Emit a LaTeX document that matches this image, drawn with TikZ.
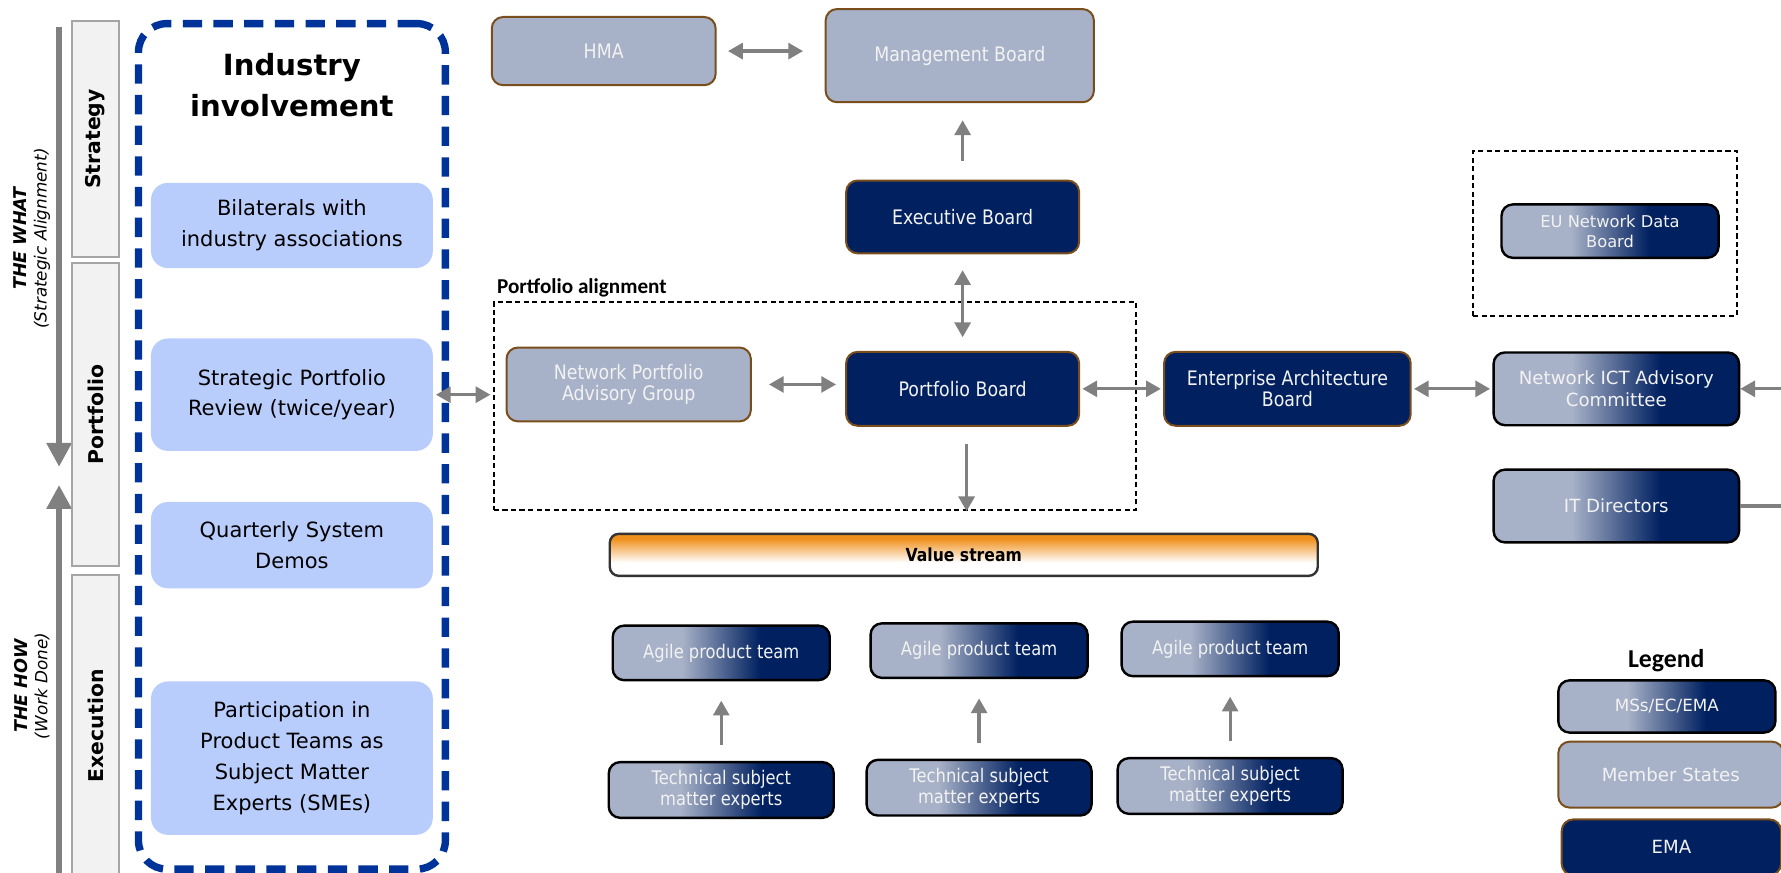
\documentclass[tikz,border=0pt]{standalone}
\usepackage{fontspec}
\setmainfont{DejaVu Sans}
\newfontfamily\condfont{DejaVu Sans}[FakeStretch=0.87]
\newfontfamily\calfont{Carlito}
\usepackage{tikz}
\usetikzlibrary{shapes, arrows.meta, positioning, calc, shadings}

\definecolor{msgray}{RGB}{167,177,199}
\definecolor{emanavy}{RGB}{0,32,96}
\definecolor{msbrown}{RGB}{122,78,28}
\definecolor{indblue}{RGB}{185,205,252}
\definecolor{dashblue}{RGB}{0,51,153}
\definecolor{arrowgray}{RGB}{128,128,128}
\definecolor{labelfill}{RGB}{242,242,242}
\definecolor{labeldraw}{RGB}{165,165,165}
\definecolor{vsorange}{RGB}{240,145,30}
\definecolor{boxtext}{RGB}{242,242,242}

\pgfdeclarehorizontalshading{mixgrad}{100bp}{color(0bp)=(msgray); color(41bp)=(msgray); color(59bp)=(emanavy); color(100bp)=(emanavy)}
\pgfdeclareverticalshading{streamgrad}{100bp}{color(0bp)=(white); color(41bp)=(white); color(69bp)=(vsorange); color(100bp)=(vsorange)}

\tikzset{
	board/.style={rounded corners=0.1cm, draw=msbrown, line width=0.5pt, text=boxtext, align=center, inner sep=0pt, font=\condfont\fontsize{5}{5.3}\selectfont},
	msbox/.style={board, fill=msgray},
	emabox/.style={board, fill=emanavy},
	mixbox/.style={board, draw=black, line width=0.6pt, shade, shading=mixgrad},
	plaintext/.style={font=\fontsize{4.55}{5.7}\selectfont},
	teamtext/.style={font=\condfont\fontsize{4.7}{5.1}\selectfont},
	industry/.style={rounded corners=0.15cm, fill=indblue, align=center, minimum width=2.48cm, inner sep=0pt, font=\fontsize{5.26}{7.7}\selectfont},
	layer/.style={draw=labeldraw, fill=labelfill, line width=0.5pt, rotate=90, minimum height=0.42cm, inner sep=0pt, font=\bfseries\fontsize{5.1}{6}\selectfont},
	dashbox/.style={draw=black, line width=0.6pt, dash pattern=on 0.045cm off 0.03cm},
	link/.style={draw=arrowgray, line width=0.8pt, {Triangle[length=0.13cm, width=0.14cm]}-{Triangle[length=0.13cm, width=0.14cm]}},
	feed/.style={draw=arrowgray, line width=0.8pt, -{Triangle[length=0.13cm, width=0.14cm]}},
	bigarrow/.style={draw=arrowgray, line width=1.5pt, -{Triangle[length=0.21cm, width=0.21cm]}}
}

\begin{document}
\begin{tikzpicture}[x=0.01cm, y=-0.01cm]
	\useasboundingbox (0,0) rectangle (1568,768.6);
	\coordinate (whattop) at (52,24);
	\coordinate (whattip) at (52,411);
	\coordinate (howend) at (52,790);
	\coordinate (howtip) at (52,427);
	\draw[bigarrow] (whattop) -- (whattip);
	\draw[bigarrow] (howend) -- (howtip);
	\node[rotate=90, align=center, font=\itshape\fontsize{4.2}{5.1}\selectfont] (what) at (28,210) {{\bfseries\fontsize{4.4}{5.1}\selectfont THE WHAT}\\(Strategic Alignment)};
	\node[rotate=90, align=center, font=\itshape\fontsize{4.2}{5.1}\selectfont] (how) at (28,604) {{\bfseries\fontsize{4.4}{5.1}\selectfont THE HOW}\\(Work Done)};
	\node[layer, minimum width=2.07cm] (strategy) at (84,122.5) {Strategy};
	\node[layer, minimum width=2.66cm] (portfolio) at (84,365) {Portfolio};
	\node[layer, minimum width=2.66cm] (execution) at (84,639) {Execution};

	\node[draw=dashblue, line width=1.85pt, dash pattern=on 0.17cm off 0.1cm, rounded corners=0.25cm, minimum width=2.7cm, minimum height=7.44cm] (frame) at (257,393) {};
	\node[align=center, font=\bfseries\fontsize{7.3}{10.2}\selectfont] (title) at (257,75) {Industry\\involvement};
	\node[industry, minimum height=0.75cm] (bil) at (257,198.5) {Bilaterals with\\industry associations};
	\node[industry, minimum height=0.99cm] (spr) at (257,347.5) {Strategic Portfolio\\Review (twice/year)};
	\node[industry, minimum height=0.76cm] (qsd) at (257,480) {Quarterly System\\Demos};
	\node[industry, minimum height=1.35cm] (pts) at (257,667.5) {Participation in\\Product Teams as\\Subject Matter\\Experts (SMEs)};

	\node[msbox, minimum width=1.97cm, minimum height=0.6cm] (hma) at (531.5,45) {HMA};
	\node[msbox, minimum width=2.36cm, minimum height=0.82cm] (mb) at (845,49) {Management Board};
	\node[emabox, minimum width=2.05cm, minimum height=0.64cm] (exb) at (847.5,191) {Executive Board};
	\node[emabox, minimum width=2.05cm, minimum height=0.65cm, below=0.85cm of exb] (pb) {Portfolio Board};
	\node[msbox, minimum width=2.15cm, minimum height=0.65cm] (npag) at (553.5,338.5) {Network Portfolio\\Advisory Group};
	\node[emabox, minimum width=2.17cm, minimum height=0.65cm, right=0.73cm of pb] (eab) {Enterprise Architecture\\Board};
	\node[mixbox, plaintext, minimum width=2.16cm, minimum height=0.64cm, right=0.71cm of eab] (ict) {Network ICT Advisory\\Committee};
	\node[mixbox, plaintext, minimum width=2.16cm, minimum height=0.64cm, below=0.37cm of ict] (itd) {IT Directors};
	\node[dashbox, minimum width=2.32cm, minimum height=1.45cm] (eudash) at (1413,205.5) {};
	\node[mixbox, font=\fontsize{4.07}{5.1}\selectfont, minimum width=1.91cm, minimum height=0.47cm] (eundb) at (1417.5,203.5) {EU Network Data\\Board};

	\node[dashbox, minimum width=5.65cm, minimum height=1.83cm] (pa) at (717.5,357.5) {};
	\node[anchor=base west, inner sep=0pt, font=\calfont\bfseries\fontsize{5.3}{6}\selectfont] (patitle) at (437,258) {Portfolio alignment};

	\node[draw=black!80, line width=0.6pt, rounded corners=0.08cm, shade, shading=streamgrad, minimum width=6.23cm, minimum height=0.37cm, font=\condfont\bfseries\fontsize{4.5}{5}\selectfont] (vs) at (848.5,488.5) {Value stream};
	\foreach \i/\x/\y in {1/635/695.5, 2/862/693.5, 3/1083/692} {
		\node[mixbox, teamtext, minimum width=1.98cm, minimum height=0.49cm] (tse\i) at (\x,\y) {Technical subject\\matter experts};
		\node[mixbox, teamtext, minimum width=1.91cm, minimum height=0.48cm, above=0.7cm of tse\i] (apt\i) {Agile product team};
		\draw[feed, shorten <=0.14cm, shorten >=0.17cm] (tse\i) -- (apt\i);
	}

	\node[font=\calfont\bfseries\fontsize{6.45}{7}\selectfont] (legend) at (1467,582) {Legend};
	\node[mixbox, font=\fontsize{4.2}{5}\selectfont, minimum width=1.91cm, minimum height=0.46cm] (lgmix) at (1467.5,622) {MSs/EC/EMA};
	\node[msbox, plaintext, minimum width=1.98cm, minimum height=0.58cm] (lgms) at (1471,682) {Member States};
	\node[emabox, plaintext, minimum width=1.93cm, minimum height=0.49cm] (lgema) at (1471.5,746) {EMA};

	\draw[link, shorten <=0.1cm, shorten >=0.19cm] (hma.east) -- (hma.east -| mb.west);
	\draw[feed, shorten <=0.16cm, shorten >=0.15cm] (exb.north) -- (exb.north |- mb.south);
	\draw[link, shorten <=0.14cm, shorten >=0.12cm] (exb) -- (pb);
	\draw[link, shorten <=0.02cm, shorten >=0.02cm] (spr.east) -- (spr.east -| pa.west);
	\draw[link, shorten <=0.15cm, shorten >=0.08cm] (npag.east) -- (npag.east -| pb.west);
	\draw[feed, shorten <=0.15cm] ([xshift=0.035cm]pb.south) -- ([xshift=0.035cm]pb.south |- pa.south);
	\foreach \from/\to in {pb/eab, eab/ict}
		\draw[link, shorten <=0.02cm, shorten >=0.02cm] (\from) -- (\to);
	\coordinate[right=0.5cm of ict.east] (ictin);
	\coordinate[right=0.5cm of itd.east] (itdout);
	\draw[feed] (ictin) -- (ict.east);
	\draw[draw=arrowgray, line width=0.8pt] (itd.east) -- (itdout);
\end{tikzpicture}
\end{document}
